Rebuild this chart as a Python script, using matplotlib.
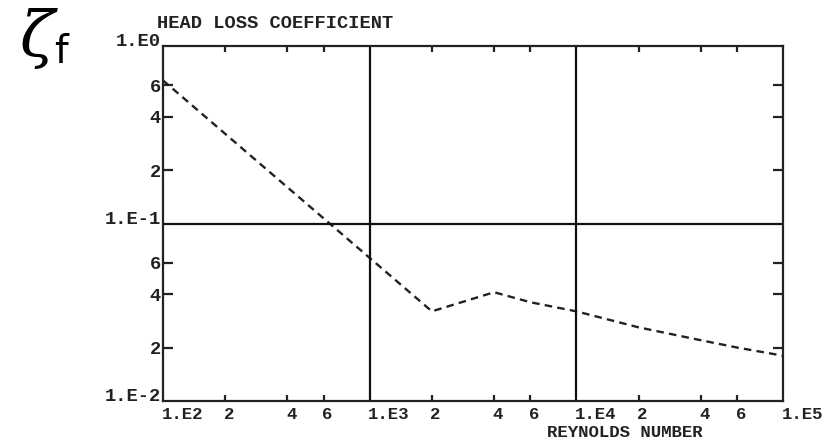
import numpy as np
import matplotlib
matplotlib.use("Agg")
import matplotlib.pyplot as plt

# -----------------------------
# Data
# -----------------------------
reynolds = [100, 1000, 2000, 4000, 6000, 10000, 20000, 40000, 60000, 100000]
zeta_f = [0.64, 0.064, 0.032, 0.041, 0.036, 0.032, 0.026, 0.022, 0.020, 0.018]

x_decades = [1e2, 1e3, 1e4, 1e5]
x_decade_labels = ["1.E2", "1.E3", "1.E4", "1.E5"]
y_decades = [1e-2, 1e-1, 1e0]
y_decade_labels = ["1.E-2", "1.E-1", "1.E0"]
minor_steps = [2, 4, 6]

title_text = "HEAD LOSS COEFFICIENT"
xlabel_text = "REYNOLDS NUMBER"

# -----------------------------
# Figure / axes
# -----------------------------
W, H = 840, 440
fig = plt.figure(figsize=(W / 100, H / 100), dpi=100)
ax = fig.add_axes([163 / W, 1 - 401 / H, 620 / W, 355 / H])

mono = dict(family="Liberation Mono", weight="bold", size=13.5, color="#222222")
mono_x = dict(mono, size=12.5)

ax.plot(reynolds, zeta_f, color="#222222", lw=1.7, linestyle=(0, (3.2, 2.2)))

ax.set_xscale("log")
ax.set_yscale("log")
ax.set_xlim(1e2, 1e5)
ax.set_ylim(1e-2, 1e0)

for s in ax.spines.values():
    s.set_linewidth(1.6)
    s.set_color("#222222")

# decade grid lines
for xv in x_decades[1:-1]:
    ax.axvline(xv, color="#111111", lw=1.6)
for yv in y_decades[1:-1]:
    ax.axhline(yv, color="#111111", lw=1.6)

# ticks at 2, 4, 6 only
x_minor = [d * m for d in x_decades[:-1] for m in minor_steps]
y_minor = [d * m for d in y_decades[:-1] for m in minor_steps]
ax.xaxis.set_major_locator(matplotlib.ticker.FixedLocator(x_minor))
ax.yaxis.set_major_locator(matplotlib.ticker.FixedLocator(y_minor))
ax.xaxis.set_minor_locator(matplotlib.ticker.NullLocator())
ax.yaxis.set_minor_locator(matplotlib.ticker.NullLocator())
ax.set_xticklabels([])
ax.set_yticklabels([])
ax.tick_params(axis="x", which="both", direction="in", length=4, width=1.6,
               top=True, bottom=True, color="#222222")
ax.tick_params(axis="y", which="both", direction="in", length=7, width=1.6,
               left=True, right=True, color="#222222")

# x tick labels (left aligned at tick)
for xv, lab in zip(x_decades, x_decade_labels):
    ax.annotate(lab, xy=(xv, 0), xycoords=("data", "axes fraction"),
                xytext=(-1, -4.5), textcoords="offset points",
                ha="left", va="top", **mono_x)
for xv in x_minor:
    ax.annotate(str(int(round(xv / 10 ** np.floor(np.log10(xv))))),
                xy=(xv, 0), xycoords=("data", "axes fraction"),
                xytext=(-1, -4.5), textcoords="offset points",
                ha="left", va="top", **mono_x)

# y tick labels (right aligned)
for yv, lab in zip(y_decades, y_decade_labels):
    ax.annotate(lab, xy=(0, yv), xycoords=("axes fraction", "data"),
                xytext=(-1.5, 0), textcoords="offset points",
                ha="right", va="baseline", **mono)
for yv in y_minor:
    ax.annotate(str(int(round(yv / 10 ** np.floor(np.log10(yv) + 1e-9)))),
                xy=(0, yv), xycoords=("axes fraction", "data"),
                xytext=(-1.5, 0), textcoords="offset points",
                ha="right", va="center_baseline", **mono)

# titles
fig.text(157 / W, 1 - 28 / H, title_text, ha="left", va="baseline", **mono)
fig.text(625 / W, 1 - 436.5 / H, xlabel_text, ha="center", va="baseline", **mono_x)

# zeta_f symbol
fig.text(20 / W, 1 - 56 / H, "\u03b6", family="DejaVu Serif", style="italic",
         size=46, ha="left", va="baseline", color="black")
fig.text(54 / W, 1 - 63 / H, "f", family="DejaVu Sans", size=28,
         ha="left", va="baseline", color="black")

fig.savefig("out.png", dpi=100)
